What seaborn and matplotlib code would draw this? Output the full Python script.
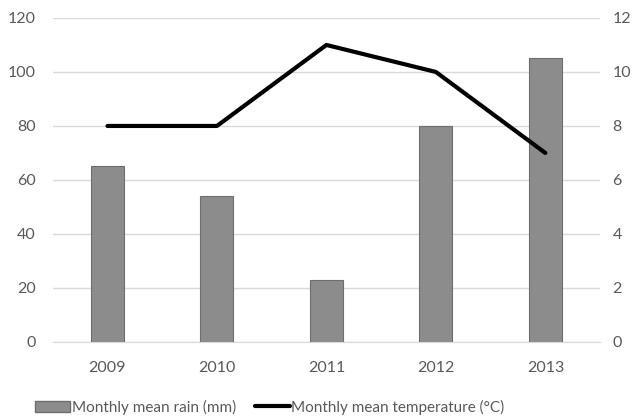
import matplotlib
matplotlib.use("Agg")
import matplotlib.pyplot as plt
import seaborn as sns
import pandas as pd
from matplotlib.patches import Patch
from matplotlib.lines import Line2D

years = ["2009", "2010", "2011", "2012", "2013"]
rain = [65, 54, 23, 80, 105]
temperature = [8, 8, 11, 10, 7]

datos = pd.DataFrame({"Year": years, "Rain": rain, "Temp": temperature})

sns.set_style("white")
plt.rcParams["font.family"] = ["Lato", "DejaVu Sans"]
txt = "#595959"

fig = plt.figure(figsize=(6.35, 4.18), dpi=100)
ax = fig.add_axes([0.083, 0.182, 0.862, 0.775])

sns.barplot(data=datos, x="Year", y="Rain", color="#8c8c8c", width=0.3,
            edgecolor="#6e6e6e", linewidth=0.8, saturation=1, ax=ax)
ax.set_ylim(0, 120)
ax.set_yticks(range(0, 121, 20))
ax.yaxis.grid(True, color="#d9d9d9", linewidth=1)
ax.set_axisbelow(True)
ax.set_xlabel("")
ax.set_ylabel("")
for s in ["top", "right", "left"]:
    ax.spines[s].set_visible(False)
ax.spines["bottom"].set_color("#d9d9d9")
ax.tick_params(axis="both", colors=txt, labelsize=11.5, length=0)
ax.tick_params(axis="y", pad=12)
ax.tick_params(axis="x", pad=14)
ax.set_xlim(-0.5, 4.5)

ax2 = ax.twinx()
sns.lineplot(x=range(len(years)), y=temperature, color="black", linewidth=3, ax=ax2)
ax2.set_ylim(0, 12)
ax2.set_yticks(range(0, 13, 2))
ax2.set_xlim(-0.5, 4.5)
for s in ["top", "right", "left", "bottom"]:
    ax2.spines[s].set_visible(False)
ax2.tick_params(axis="y", colors=txt, labelsize=11.5, length=0, pad=9)

handles = [Patch(facecolor="#8c8c8c", edgecolor="#6e6e6e", label="Monthly mean rain (mm)"),
           Line2D([0], [0], color="black", linewidth=3, label="Monthly mean temperature (°C)")]
leg = fig.legend(handles=handles, loc="lower center", bbox_to_anchor=(0.425, -0.025), ncol=2,
                 frameon=False, fontsize=11, handlelength=2.3, handletextpad=0.1,
                 columnspacing=1.2)
for t in leg.get_texts():
    t.set_color(txt)

fig.savefig("out.png", dpi=100)
